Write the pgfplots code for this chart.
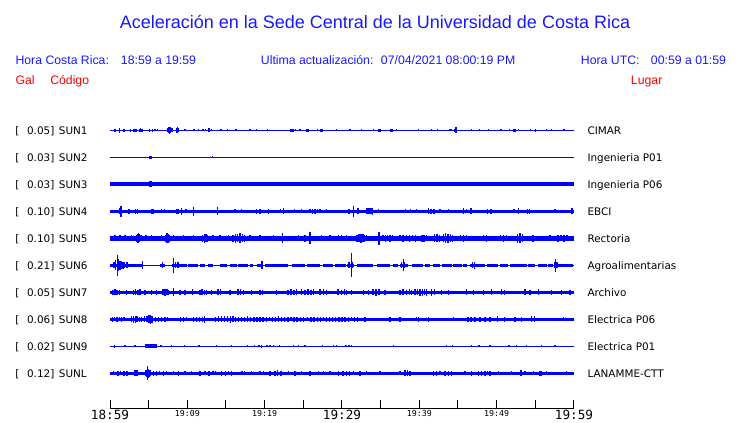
\documentclass[border=0pt]{standalone}
\usepackage{pgfplots}
\pgfplotsset{compat=1.18}
\usepackage{fontspec}
\setmainfont{Liberation Sans}
\setmonofont{DejaVu Sans Mono}
\newfontfamily\dv{DejaVu Sans}
\definecolor{tblue}{RGB}{0,0,255}
\definecolor{hblue}{RGB}{24,24,255}
\definecolor{hred}{RGB}{255,0,0}
\newcommand\BL[1]{{\fontsize{9.5}{10}\selectfont #1}}
\newcommand\SM[1]{{\fontsize{6.2}{7}\selectfont #1}}
\pgfplotsset{
  spk/.style={draw=none, mark=none, forget plot,
    error bars/y dir=both, error bars/y explicit, error bars/error mark=none,
    error bars/error bar style={draw=tblue, solid, line width=#1}},
  spk/.default=1pt,
  base/.style={tblue, line width=#1, forget plot, mark=none}
}
\begin{document}
\begin{tikzpicture}[x=0.75pt,y=0.75pt]
% header texts
\node[anchor=base, inner sep=0pt, text=hblue, font=\fontsize{13.5}{15}\selectfont] at (375,394) {Aceleración en la Sede Central de la Universidad de Costa Rica};
\begin{scope}[every node/.style={anchor=base west, inner sep=0pt, font=\fontsize{9.2}{11}\selectfont}]
\node[text=hblue] at (15.3,358) {Hora Costa Rica:};
\node[text=hblue] at (120.7,358) {18:59 a 19:59};
\node[text=hblue] at (260.7,358) {Ultima actualización:};
\node[text=hblue] at (380.7,358) {07/04/2021 08:00:19 PM};
\node[text=hblue] at (580.7,358) {Hora UTC:};
\node[text=hblue] at (650.7,358) {00:59 a 01:59};
\node[text=hred] at (15.3,338) {Gal};
\node[text=hred] at (50,338) {Código};
\node[text=hred] at (630.7,338) {Lugar};
\end{scope}
% trace labels
\begin{scope}[every node/.style={inner sep=0pt, font=\dv\fontsize{7.8}{9}\selectfont}]
\foreach \g/\c/\s [count=\i from 0] in {0.05/SUN1/CIMAR, 0.03/SUN2/Ingenieria P01, 0.03/SUN3/Ingenieria P06, 0.10/SUN4/EBCI, 0.10/SUN5/Rectoria, 0.21/SUN6/Agroalimentarias, 0.05/SUN7/Archivo, 0.06/SUN8/Electrica P06, 0.02/SUN9/Electrica P01, 0.12/SUNL/LANAMME-CTT}{
  \node[anchor=base west] at (15,288.7-27*\i) {[};
  \node[anchor=base east] at (54.6,288.7-27*\i) {\g]};
  \node[anchor=base west] at (58.7,288.7-27*\i) {\c};
  \node[anchor=base west] at (587.3,288.7-27*\i) {\s};
}
\end{scope}
\begin{axis}[at={(82.5pt,10.5pt)}, anchor=south west, scale only axis,
  width=348pt, height=220.5pt,
  xmin=0, xmax=60, ymin=14, ymax=308,
  axis x line*=bottom, axis y line=none, ytick=\empty, clip=false,
  xtick={0,5,...,60},
  xticklabels={\BL{18:59},{},\SM{19:09},{},\SM{19:19},{},\BL{19:29},{},\SM{19:39},{},\SM{19:49},{},\BL{19:59}},
  xtick align=inside, major tick length=6.75pt,
  x axis line style={black, line width=0.75pt},
  every tick/.style={black, line width=0.75pt},
  xticklabel style={font=\ttfamily, inner sep=1pt, text=black},
]
% ---------- SUN1 ----------
\addplot[base=1pt] coordinates {(0,292.7) (60,292.7)};
\addplot[spk] table[x=x, y expr=292.7, y error=e] {
x e
0.65 1.3
1.25 2.5
1.81 1.5
2.68 1.5
3.10 1.3
3.27 1.5
3.42 1.3
3.82 1.5
3.97 2
4.12 1.5
5.08 1.5
5.52 1.5
5.82 1
6.12 1
7.40 2
7.55 3
7.70 3.6
7.85 3
8.00 2
8.60 2.5
8.75 3.2
8.90 2
9.70 1
10.86 1
11.47 1
12.03 1
12.38 1
12.80 2
13.15 1
14.35 1
15.22 1
16.29 1
18.09 1
18.97 0.8
20.39 1
23.40 1.3
23.55 1.6
23.70 1.3
24.01 1
24.57 1
25.40 1.5
25.60 1.5
26.81 1
27.20 1.5
27.40 1.5
29.32 1
31.04 1
32.55 0.8
34.05 1
34.80 1.5
35.00 1.5
36.35 1.5
36.55 1.5
37.07 1
39.87 1
41.60 1
42.38 1
43.97 1
44.19 1
44.60 1.5
44.75 3
46.77 1
47.76 1
48.92 1
50.56 0.8
51.64 1
52.25 1.6
52.40 1.6
52.80 1
54.40 1
55.05 1.5
56.47 1
57.12 1
58.71 1
};
% ---------- SUN2 ----------
\addplot[base=0.75pt] coordinates {(0,265.7) (60,265.7)};
\addplot[spk] table[x=x, y expr=265.7, y error=e] {
x e
5.15 1.6
5.30 1.6
13.23 0.9
};
% ---------- SUN3 ----------
\addplot[base=2.8pt] coordinates {(0,238.7) (60,238.7)};
\addplot[spk] table[x=x, y expr=238.7, y error=e] {
x e
5.15 3
5.30 3
};
% ---------- SUN4 ----------
\addplot[base=2.6pt] coordinates {(0,211.7) (60,211.7)};
\addplot[spk] table[x=x, y expr=211.7, y error=e] {
x e
1.28 3
1.42 5.5
2.35 2.5
2.46 2.5
3.32 2.5
3.58 2.5
5.35 2.5
5.47 2.5
5.60 2.5
6.69 2.2
7.02 2.2
8.60 2.5
8.75 2.5
8.90 2.5
9.27 3.5
9.83 2.2
10.77 4.5
13.93 4
16.16 2.2
17.03 2.2
18.97 2.5
19.40 2.5
20.47 2.5
22.07 2.2
22.41 2.8
23.83 2.2
24.79 2.2
25.86 2.2
26.21 2.5
26.51 2.5
26.81 2.2
27.16 2.2
28.02 2.2
30.91 2.5
31.46 5.5
32.07 2.8
33.23 2.8
33.43 3
33.62 2.8
33.88 2.8
33.97 3.5
34.69 2.2
38.24 2.2
38.88 2.2
39.66 2.2
41.16 3
41.51 2.5
41.90 2.5
42.67 2.2
43.75 2.2
45.69 3
46.13 2.2
46.68 3
48.84 2.5
49.27 2.5
52.24 2.2
52.80 3
54.01 2.5
54.27 2.5
57.54 2.2
59.74 3
};
% ---------- SUN5 ----------
\addplot[base=3.5pt] coordinates {(0,184.7) (60,184.7)};
\addplot[spk] table[x=x, y expr=184.7, y error=e] {
x e
0.65 3
1.29 3
1.94 3
2.81 3
3.40 3.5
3.55 4.5
3.70 5
3.85 4
4.00 3
4.66 3
5.39 3
6.69 3
7.20 3.5
7.37 5
7.50 4.5
7.65 3.5
8.19 3
9.48 3
10.77 3
12.00 3.5
12.20 4.5
12.40 4
12.60 3.5
13.32 3
14.22 3
15.30 3
15.90 3.5
16.20 4.5
16.50 4
16.80 5
17.10 4
17.40 3.5
18.10 3
19.40 3
21.12 3
22.33 5
24.35 3
25.22 3.5
25.86 6
27.38 3
28.45 3
29.52 3
29.96 3
30.61 3
31.95 3.5
32.20 4
32.45 4.5
32.70 4
32.95 3.5
33.20 3
34.79 6.5
35.30 3
35.60 3.5
35.90 3
36.20 3.5
36.50 3
37.50 3
37.90 3.5
38.30 3
38.70 3.5
39.10 3
39.50 3.5
40.35 3.5
40.60 3.5
40.95 3
42.00 4
42.30 4
42.60 3.5
43.10 4
43.40 5
43.70 4.5
44.00 4
44.30 3.5
45.30 3
45.70 3.5
46.10 3
48.30 3
48.70 3.5
50.50 3
50.90 3.5
51.30 3
52.70 4.5
53.00 5
53.30 4
54.70 3.5
56.90 3
57.95 3.5
58.30 3
58.70 3.5
59.10 3
};
% ---------- SUN6 ----------
\addplot[base=0.9pt] coordinates {(0,157.7) (60,157.7)};
\addplot[base=2.1pt, unbounded coords=jump] table {
x y
0.00 157.7
4.10 157.7
4.10 nan
6.47 157.7
7.11 157.7
7.11 nan
7.98 157.7
9.92 157.7
9.92 nan
10.12 157.7
11.42 157.7
11.42 nan
11.64 157.7
12.28 157.7
12.28 nan
12.71 157.7
13.36 157.7
13.36 nan
14.22 157.7
15.09 157.7
15.09 nan
15.52 157.7
16.38 157.7
16.38 nan
16.59 157.7
17.88 157.7
17.88 nan
18.10 157.7
18.53 157.7
18.53 nan
18.97 157.7
19.83 157.7
19.83 nan
20.04 157.7
23.06 157.7
23.06 nan
23.50 157.7
25.22 157.7
25.22 nan
25.44 157.7
27.16 157.7
27.16 nan
27.50 157.7
28.87 157.7
28.87 nan
29.09 157.7
30.52 157.7
30.52 nan
30.69 157.7
31.55 157.7
31.55 nan
31.90 157.7
34.05 157.7
34.05 nan
34.49 157.7
36.21 157.7
36.21 nan
36.63 157.7
37.28 157.7
37.28 nan
37.50 157.7
38.57 157.7
38.57 nan
39.01 157.7
40.51 157.7
40.51 nan
40.73 157.7
41.38 157.7
41.38 nan
41.81 157.7
42.67 157.7
42.67 nan
42.89 157.7
44.19 157.7
44.19 nan
44.39 157.7
45.48 157.7
45.48 nan
45.69 157.7
46.13 157.7
46.13 nan
46.55 157.7
48.49 157.7
48.49 nan
48.71 157.7
50.21 157.7
50.21 nan
50.43 157.7
51.50 157.7
51.50 nan
51.72 157.7
53.88 157.7
53.88 nan
54.09 157.7
54.96 157.7
54.96 nan
55.38 157.7
56.47 157.7
56.47 nan
56.68 157.7
57.32 157.7
57.32 nan
57.54 157.7
59.91 157.7
};
\addplot[spk] table[x=x, y expr=157.7, y error=e] {
x e
0.50 3
0.70 5
0.94 10.7
1.10 6
1.30 4.5
1.50 4
1.70 3.5
1.90 3
2.20 3
4.18 4
6.76 3
8.19 7.3
8.50 3
8.80 3
19.66 4
30.90 3
31.20 12
31.40 3
37.70 3
37.93 6
38.10 3
46.90 3
47.10 3.5
57.45 3
57.63 6.5
57.80 3
};
% ---------- SUN7 ----------
\addplot[base=2.6pt] coordinates {(0,130.7) (60,130.7)};
\addplot[spk] table[x=x, y expr=130.7, y error=e] {
x e
0.40 2.5
0.65 3
0.90 2.5
1.20 2.5
2.16 2.5
3.00 2.5
3.30 3
3.60 2.5
3.90 3
4.53 2.5
5.39 2.5
6.04 2.5
6.85 3
7.10 3.5
7.35 3
7.50 2.5
8.19 4
9.05 2.5
9.70 2.5
10.64 3
11.64 2.5
11.90 3
12.20 2.5
12.50 2.5
13.15 2.5
13.97 3
14.30 3
15.52 2.5
16.55 3
16.90 3
17.30 2.5
18.32 2.5
19.40 2.5
19.70 2.5
21.56 2.5
23.00 2.5
23.40 3
23.80 2.5
24.10 3
24.80 3
25.20 2.5
25.60 3
26.00 2.5
26.30 3
27.16 3
27.60 3
28.00 2.5
29.50 3
29.90 2.5
30.30 3
30.60 2.5
31.26 2.5
32.75 2.5
33.40 2.5
34.00 3
34.40 3.5
34.80 3
35.56 2.5
37.50 2.5
37.90 3
38.30 2.5
38.70 3
39.00 2.5
39.45 3
39.80 3
40.10 3.5
40.40 3.5
40.70 3
40.95 3.5
41.60 3.5
42.00 3
42.89 2.5
43.75 2.5
46.13 3
46.98 2.5
48.27 2.5
49.36 3
50.65 3
51.00 2.5
53.66 3
54.31 2.5
55.38 3
57.12 2.5
58.41 2.5
59.48 2.5
};
% ---------- SUN8 ----------
\addplot[base=2.6pt] coordinates {(0,103.7) (60,103.7)};
\addplot[spk] table[x=x, y expr=103.7, y error=e] {
x e
0.30 2.5
0.60 2.2
0.90 2.5
1.20 2.2
1.50 2.5
1.80 2.2
2.80 3
3.05 3.5
3.30 3.5
3.50 3
3.80 2.5
4.10 2.5
4.50 3
4.80 3
5.05 4
5.25 4.5
5.45 3.5
5.90 2.5
6.30 2.5
6.70 2.5
7.10 2.5
7.40 2.2
9.10 2.5
9.50 2.5
9.90 2.2
10.80 2.5
11.20 2.5
11.60 2.5
12.00 2.5
12.25 3.5
13.60 2.5
14.00 3
14.40 3
14.80 3
15.20 3
15.60 3.5
15.90 3
16.20 2.5
16.60 2.5
17.00 2.5
17.40 2.5
17.80 3
18.20 2.5
18.60 2.5
19.00 2.5
19.40 2.5
19.80 2.5
20.20 2.5
20.60 2.2
21.00 2.5
21.40 2.5
21.80 3
22.20 2.5
22.60 2.5
23.00 2.5
23.40 2.2
23.80 2.5
24.20 2.5
24.60 2.5
25.00 2.5
25.50 2.2
26.00 2.5
26.40 2.5
26.80 2.5
27.20 2.5
27.60 2.2
28.00 2.5
28.40 2.5
28.80 2.5
29.20 2.5
29.60 2.5
30.00 2.5
30.40 2.5
30.80 2.5
31.20 2.2
31.60 2.5
32.00 2.5
32.97 2.5
36.21 2.5
37.50 2.5
39.66 2.2
39.87 2.5
41.16 2.5
44.39 2.2
46.30 2.5
46.70 2.5
47.20 2.5
47.85 2.5
48.49 2.5
49.14 2.5
50.13 2.8
50.99 2.5
52.37 2.5
53.24 2.5
54.50 2.8
54.90 3
58.62 2.2
};
% ---------- SUN9 ----------
\addplot[base=0.8pt] coordinates {(0,76.7) (60,76.7)};
\addplot[spk] table[x=x, y expr=76.7, y error=e] {
x e
0.56 1.5
1.94 1
3.23 1
4.60 2.2
4.75 2.2
4.90 2.2
5.05 2.2
5.20 2.2
5.35 2.2
5.50 2.2
5.65 2.2
5.80 2.2
5.95 2.2
6.60 1
7.98 1
9.61 1
11.51 1
13.80 1
15.74 1
17.78 1.2
18.66 1
19.27 1
19.62 1.5
20.30 1
20.70 1.2
21.10 1
21.89 1
23.70 1
24.35 1
25.22 1
27.50 1
28.90 1
29.30 1
30.50 1.2
30.90 1.2
31.20 1
36.63 1
43.54 1
44.27 1
46.77 1
47.72 1
49.14 1
51.60 1
52.59 1
53.88 1.2
55.83 1.2
57.54 1
};
% ---------- SUNL ----------
\addplot[base=2.6pt] coordinates {(0,49.7) (60,49.7)};
\addplot[spk] table[x=x, y expr=49.7, y error=e] {
x e
0.43 2.2
1.03 2.5
1.40 2.2
1.80 2.5
2.20 2.5
3.23 3
3.50 3
4.60 3
4.70 3.5
4.82 6.8
4.95 4.5
5.10 3.5
5.20 3
5.60 2.5
6.00 2.5
6.40 2.2
6.90 2.5
7.30 2.2
8.19 2.2
8.83 2.5
9.70 2.2
10.57 2.2
11.64 2.5
12.30 2.2
12.80 2.5
13.30 2.2
13.60 2.2
14.45 2.5
14.90 2.5
15.30 2.2
15.70 2.5
17.05 2.2
17.40 2.2
18.32 2.2
19.40 2.2
19.82 2.2
20.69 2.5
21.34 2.5
21.70 3
22.10 2.5
23.06 2.2
23.92 2.5
24.79 2.2
25.86 2.5
26.94 2.2
27.58 2.2
28.45 2.2
29.52 2.5
30.13 2.5
30.60 2.5
31.00 2.5
31.46 2.2
32.33 2.5
33.20 2.2
34.92 2.2
37.50 2.2
38.15 3
38.50 3
38.80 2.5
41.81 2.5
42.25 2.5
42.67 2.2
43.32 2.5
43.75 2.5
44.20 2.5
45.91 2.2
46.77 2.5
47.63 2.5
48.07 2.5
48.49 2.5
48.80 2.2
49.14 2.5
50.21 2.2
51.94 2.2
53.15 3
53.66 2.2
54.74 2.2
55.60 2.5
55.83 2.5
56.47 2.2
59.06 2.2
};
\end{axis}
\pgfresetboundingbox
\useasboundingbox (0,0) rectangle (740,423);
\end{tikzpicture}
\end{document}
